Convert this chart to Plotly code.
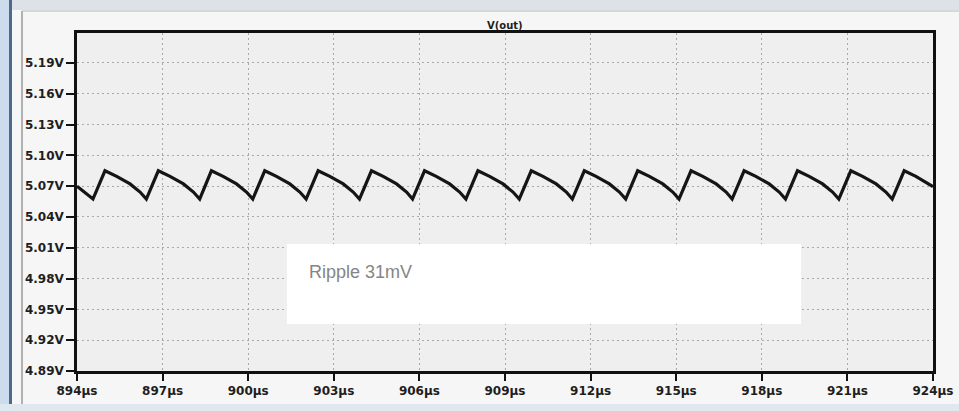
import plotly.graph_objects as go

# ---- data ----
t_us = [894.00, 894.56,
        894.98, 895.39, 895.86, 896.21, 896.43,
        896.85, 897.26, 897.73, 898.08, 898.30,
        898.71, 899.12, 899.59, 899.94, 900.16,
        900.58, 900.99, 901.46, 901.81, 902.03,
        902.45, 902.86, 903.33, 903.68, 903.90,
        904.32, 904.73, 905.20, 905.55, 905.76,
        906.18, 906.59, 907.06, 907.41, 907.63,
        908.05, 908.46, 908.93, 909.28, 909.50,
        909.92, 910.33, 910.80, 911.15, 911.36,
        911.78, 912.19, 912.66, 913.01, 913.23,
        913.65, 914.06, 914.53, 914.88, 915.10,
        915.52, 915.93, 916.40, 916.75, 916.96,
        917.38, 917.79, 918.26, 918.61, 918.83,
        919.25, 919.66, 920.13, 920.48, 920.70,
        921.12, 921.53, 922.00, 922.35, 922.57,
        922.99, 923.40, 923.87, 924.00]
v_out = [5.0700, 5.0575,
         5.0850, 5.0795, 5.0722, 5.0643, 5.0575,
         5.0850, 5.0795, 5.0722, 5.0643, 5.0575,
         5.0850, 5.0795, 5.0722, 5.0643, 5.0575,
         5.0850, 5.0795, 5.0722, 5.0643, 5.0575,
         5.0850, 5.0795, 5.0722, 5.0643, 5.0575,
         5.0850, 5.0795, 5.0722, 5.0643, 5.0575,
         5.0850, 5.0795, 5.0722, 5.0643, 5.0575,
         5.0850, 5.0795, 5.0722, 5.0643, 5.0575,
         5.0850, 5.0795, 5.0722, 5.0643, 5.0575,
         5.0850, 5.0795, 5.0722, 5.0643, 5.0575,
         5.0850, 5.0795, 5.0722, 5.0643, 5.0575,
         5.0850, 5.0795, 5.0722, 5.0643, 5.0575,
         5.0850, 5.0795, 5.0722, 5.0643, 5.0575,
         5.0850, 5.0795, 5.0722, 5.0643, 5.0575,
         5.0850, 5.0795, 5.0722, 5.0643, 5.0575,
         5.0850, 5.0795, 5.0722, 5.0695]

x_tick_vals = [894, 897, 900, 903, 906, 909, 912, 915, 918, 921, 924]
x_tick_text = ["894µs", "897µs", "900µs", "903µs", "906µs", "909µs",
               "912µs", "915µs", "918µs", "921µs", "924µs"]
y_tick_vals = [4.89, 4.92, 4.95, 4.98, 5.01, 5.04, 5.07, 5.10, 5.13, 5.16, 5.19]
y_tick_text = ["4.89V", "4.92V", "4.95V", "4.98V", "5.01V", "5.04V",
               "5.07V", "5.10V", "5.13V", "5.16V", "5.19V"]
trace_name = "V(out)"
note_text = "Ripple 31mV"

# ---- layout geometry (pixels) ----
W, H = 959, 411
L, R, T, B = 77, 26, 33, 40
PW, PH = W - L - R, H - T - B


def px(x):
    return (x - L) / PW


def py(y):
    return 1 - (y - T) / PH


fig = go.Figure()
fig.add_trace(go.Scatter(x=t_us, y=v_out, mode="lines", name=trace_name,
                         line=dict(color="#151515", width=3.2),
                         showlegend=False, hoverinfo="skip"))

tickfont = dict(family="DejaVu Sans", size=12, color="#1e1e1e")
grid = dict(showgrid=True, gridcolor="#a9a9a9", gridwidth=1, griddash="2px,3px")

fig.update_xaxes(range=[894, 924], tickvals=x_tick_vals,
                 ticktext=["<b>%s</b>" % s for s in x_tick_text],
                 ticks="outside", ticklen=7, tickwidth=2, tickcolor="#111",
                 showline=True, linewidth=2.5, linecolor="#111", mirror=True,
                 zeroline=False, tickfont=tickfont, automargin=False, **grid)
fig.update_yaxes(range=[4.89, 5.2192], tickvals=y_tick_vals,
                 ticktext=["<b>%s</b>" % s for s in y_tick_text],
                 ticks="outside", ticklen=8, tickwidth=2, tickcolor="#111",
                 showline=True, linewidth=2.5, linecolor="#111", mirror=True,
                 zeroline=False, tickfont=tickfont, automargin=False, **grid)

shapes = [
    # window chrome
    dict(type="rect", xref="paper", yref="paper", x0=px(0), x1=px(W), y0=py(0), y1=py(10),
         fillcolor="#dde2e8", line_width=0, layer="below"),
    dict(type="rect", xref="paper", yref="paper", x0=px(0), x1=px(9), y0=py(0), y1=py(H),
         fillcolor="#cddcec", line_width=0, layer="below"),
    dict(type="rect", xref="paper", yref="paper", x0=px(9), x1=px(12), y0=py(0), y1=py(H),
         fillcolor="#4b6a8c", line_width=0, layer="below"),
    dict(type="rect", xref="paper", yref="paper", x0=px(0), x1=px(W), y0=py(404), y1=py(H),
         fillcolor="#dfe7ef", line_width=0, layer="below"),
    dict(type="line", xref="paper", yref="paper", x0=px(22), x1=px(22), y0=py(11), y1=py(404),
         line=dict(color="#9a9a9a", width=1.5), layer="below"),
    dict(type="line", xref="paper", yref="paper", x0=px(22), x1=px(W), y0=py(11), y1=py(11),
         line=dict(color="#b8b8b8", width=1), layer="below"),
    # white note box
    dict(type="rect", xref="paper", yref="paper", x0=px(287), x1=px(801), y0=py(244), y1=py(324),
         fillcolor="#ffffff", line_width=0, layer="above"),
]

annotations = [
    dict(text="<b>%s</b>" % trace_name, xref="paper", yref="paper", x=px(505), y=py(25),
         showarrow=False, xanchor="center", yanchor="middle",
         font=dict(family="DejaVu Sans", size=10, color="#1e1e1e")),
    dict(text=note_text, xref="paper", yref="paper", x=px(307), y=py(272),
         showarrow=False, xanchor="left", yanchor="middle",
         font=dict(family="Liberation Sans, Arial", size=18, color="#858585")),
]

fig.update_layout(width=W, height=H, autosize=False,
                  margin=dict(l=L, r=R, t=T, b=B, pad=0),
                  paper_bgcolor="#f6f6f6", plot_bgcolor="#efefef",
                  shapes=shapes, annotations=annotations)

fig.write_html("out.html", config={"displayModeBar": False},
               post_script="document.body.style.margin='0';document.body.style.overflow='hidden';")
